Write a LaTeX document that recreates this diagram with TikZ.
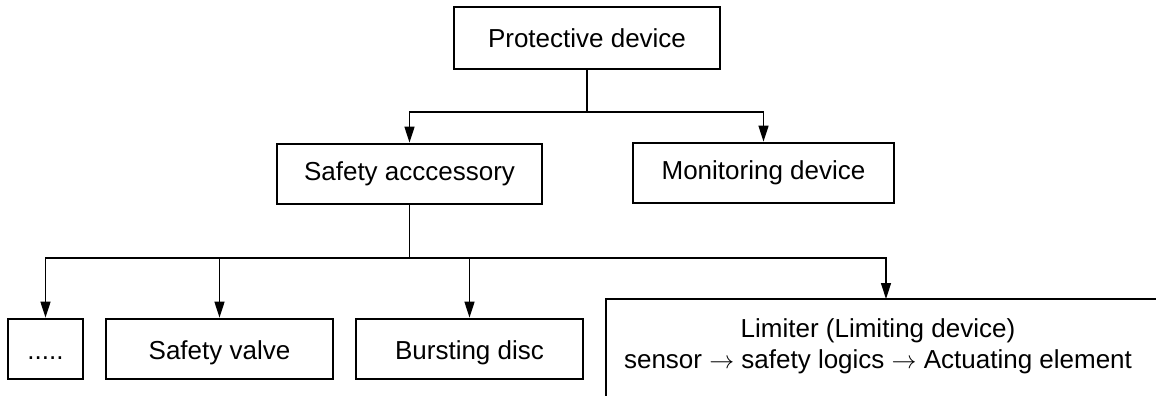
\documentclass[tikz,border=0pt]{standalone}
\usepackage{fontspec}
\setmainfont{Liberation Sans}
\usetikzlibrary{arrows.meta}
\begin{document}
\begin{tikzpicture}[x=1pt,y=-1pt,
  box/.style={draw, line width=2.8pt, minimum height=60pt, inner sep=0pt, font=\fontsize{26}{31}\selectfont},
  lowtext/.style={text depth=2pt, text height=22pt},
  conn/.style={line width=1.4pt},
  arr/.style={conn, -{Triangle[length=16pt,width=10pt]}}]
\useasboundingbox (0,0) rectangle (1156,396);
\node[box, minimum width=266pt, minimum height=62pt] (prot) at (587,38) {Protective device};
\node[box, minimum width=265pt] (safe) at (409.5,174) {Safety acccessory};
\node[box, minimum width=261pt] (mon) at (763.5,173) {Monitoring device};
\node[box, lowtext, minimum width=75pt] (dots) at (45.5,349) {.....};
\node[box, lowtext, minimum width=227pt] (valve) at (219.5,349) {Safety valve};
\node[box, lowtext, minimum width=227pt] (burst) at (469.5,349) {Bursting disc};
\coordinate (lim) at (886,299);
\draw[line width=2.8pt] (606,400) -- (606,299) -- (1160,299);
\node[align=center, font=\fontsize{26}{31}\selectfont, inner sep=0pt] (limtxt) at (878,346)
  {Limiter (Limiting device)\\ sensor $\rightarrow$ safety logics $\rightarrow$ Actuating element};
\coordinate (j1) at (587,112);
\coordinate (j2) at (409.5,258);
\draw[conn] (prot) -- (j1);
\draw[arr] (j1) -| (safe);
\draw[arr] (j1) -| (mon);
\draw[conn] (safe) -- (j2);
\draw[arr] (j2) -| (dots);
\draw[arr] (j2) -| (valve);
\draw[arr] (j2) -| (burst);
\draw[arr] (j2) -| (lim);
\end{tikzpicture}
\end{document}
